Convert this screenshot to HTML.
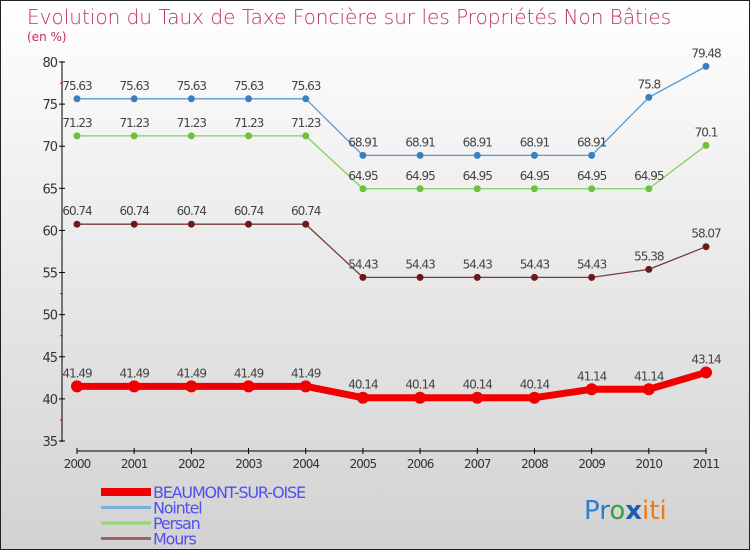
<!DOCTYPE html>
<html><head><meta charset="utf-8"><style>
body{margin:0}
#c{width:750px;height:550px;position:relative;background:linear-gradient(#ffffff,#d2d2d2);border:1px solid #222;box-sizing:border-box;overflow:hidden;font-family:"DejaVu Sans","Liberation Sans",sans-serif}
</style></head><body>
<div id="c">
<svg id="s" width="750" height="550">
<text x="26" y="23" font-size="20" fill="#c0305a" font-family="DejaVu Sans, sans-serif" font-weight="200">Evolution du Taux de Taxe Foncière sur les Propriétés Non Bâties</text>
<text x="26" y="40" font-size="12" fill="#c0305a">(en %)</text>
<text x="583" y="518" font-size="26"><tspan fill="#2a7fd0">Pr</tspan><tspan fill="#3aa040">o</tspan><tspan fill="#1a5fb0" font-weight="bold">x</tspan><tspan fill="#f07a10">iti</tspan></text>
</svg>
</div>
<script>
const years=["2000","2001","2002","2003","2004","2005","2006","2007","2008","2009","2010","2011"];
const yTicks=[35,40,45,50,55,60,65,70,75,80];
const beaumont=[41.49,41.49,41.49,41.49,41.49,40.14,40.14,40.14,40.14,41.14,41.14,43.14];
const nointel=[75.63,75.63,75.63,75.63,75.63,68.91,68.91,68.91,68.91,68.91,75.8,79.48];
const persan=[71.23,71.23,71.23,71.23,71.23,64.95,64.95,64.95,64.95,64.95,64.95,70.1];
const mours=[60.74,60.74,60.74,60.74,60.74,54.43,54.43,54.43,54.43,54.43,55.38,58.07];
const names=["BEAUMONT-SUR-OISE","Nointel","Persan","Mours"];
const s=document.getElementById('s');const NS="http://www.w3.org/2000/svg";
function mk(t,a,p){const e=document.createElementNS(NS,t);for(const k in a)e.setAttribute(k,a[k]);(p||s).appendChild(e);return e;}
const X=i=>76+i*(705-76)/(years.length-1);
const Y=v=>61+(80-v)*(440-61)/45;
let e=mk('line',{x1:61,y1:60,x2:61,y2:441,stroke:'#000'});

e=mk('line',{x1:76,y1:450,x2:705,y2:450,stroke:'#000'});

yTicks.forEach(v=>{mk('line',{x1:58,x2:64,y1:Y(v),y2:Y(v),stroke:'#000'});
 const t=mk('text',{x:56,y:Y(v)+5,'text-anchor':'end','font-size':13,fill:'#333','letter-spacing':'-1'});t.textContent=v;
 });
[77.5,52.5,47.5,37.5].forEach(v=>mk('line',{x1:59,x2:62,y1:Y(v),y2:Y(v),stroke:'#e00'}));
years.forEach((y,i)=>{mk('line',{x1:X(i),x2:X(i),y1:447,y2:453,stroke:'#000'});
 const t=mk('text',{x:X(i),y:467,'text-anchor':'middle','font-size':12,fill:'#333','letter-spacing':'-1'});t.textContent=y;
 });
function series(d,col,dot,w,r,name){
 const g=mk('g',{});
 mk('polyline',{points:d.map((v,i)=>X(i)+','+Y(v)).join(' '),fill:'none',stroke:col,'stroke-width':w,'stroke-linejoin':'round'},g);
 d.forEach((v,i)=>{const c=mk('circle',{cx:X(i),cy:Y(v),r:r,fill:dot},g);
  const t=mk('text',{x:X(i),y:Y(v)-9,'text-anchor':'middle','font-size':12,fill:'#444','letter-spacing':'-1'},g);t.textContent=v;
  });
}
series(mours,'#7a3a3a','#6a1a1a',1.3,3.5,'series-mours');
series(persan,'#80d060','#70c040',1.3,3.5,'series-persan');
series(nointel,'#5a9ad0','#3a80c0',1.3,3.5,'series-nointel');
series(beaumont,'#f00000','#f00000',7,6,'series-beaumont');
const lc=['#f00000','#7ab0d8','#90d870','#a06060'],lw=[8,3,3,3];
names.forEach((n,i)=>{const y=491+i*15.5;
 const g=mk('g',{});
 mk('line',{x1:100,x2:150,y1:y,y2:y,stroke:lc[i],'stroke-width':lw[i]},g);
 const t=mk('text',{x:152,y:y+6,'font-size':16,fill:'#5050f0','letter-spacing':'-1.2'},g);t.textContent=n;});
</script>
</body></html>
